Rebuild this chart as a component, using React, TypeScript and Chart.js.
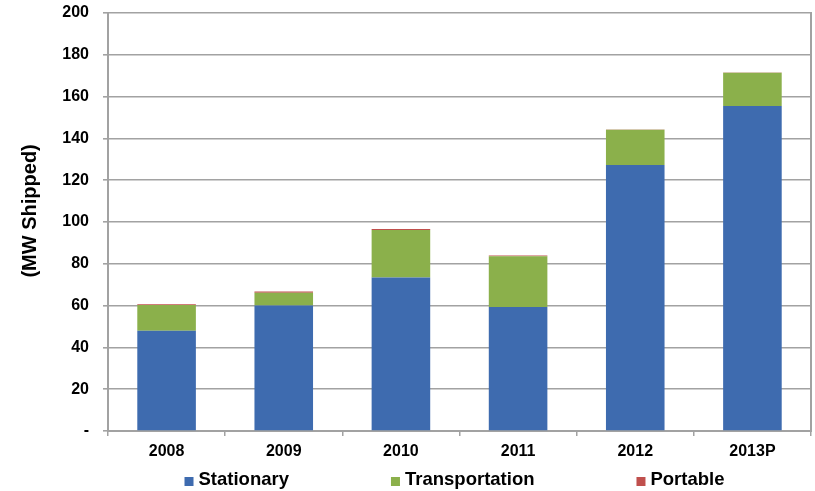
import React, { useEffect, useRef } from 'react';
import { Chart, registerables } from 'chart.js';

Chart.register(...registerables);

const categories = ['2008', '2009', '2010', '2011', '2012', '2013P'];
const stationary = [48, 60, 73.5, 59.3, 127.3, 155.5];
const transportation = [12.3, 6.2, 22.7, 24.3, 16.8, 15.9];
const portable = [0.4, 0.5, 0.5, 0.4, 0.2, 0.1];
const seriesNames = ['Stationary', 'Transportation', 'Portable'];
const seriesColors = ['#3E6BAF', '#8BB04B', '#C0504D'];
const yTitle = '    (MW Shipped)';
const yMin = 0;
const yMax = 200;
const yStep = 20;

const FONT = '"Liberation Sans", Arial, Helvetica, sans-serif';
const GRID = '#a2a2a2';

const bottomLegend = {
  id: 'bottomLegend',
  afterDraw(chart: any) {
    const ctx = chart.ctx;
    ctx.save();
    ctx.font = `bold 18.5px ${FONT}`;
    const box = 9;
    const gapText = 5;
    const gapItem = 102;
    const items = chart.data.datasets.map((ds: any) => ({
      text: ds.label,
      color: ds.backgroundColor,
      w: ctx.measureText(ds.label).width,
    }));
    const total =
      items.reduce((s: number, it: any) => s + box + gapText + it.w, 0) +
      gapItem * (items.length - 1);
    const ca = chart.chartArea;
    let x = (ca.left + ca.right) / 2 - total / 2 - 5;
    const yBox = ca.bottom + 46;
    const yText = ca.bottom + 49;
    ctx.textBaseline = 'middle';
    ctx.textAlign = 'left';
    items.forEach((it: any) => {
      ctx.fillStyle = it.color;
      ctx.fillRect(x, yBox, box, box);
      ctx.fillStyle = '#000';
      ctx.fillText(it.text, x + box + gapText, yText);
      x += box + gapText + it.w + gapItem;
    });
    ctx.restore();
  },
};

export default function App() {
  const ref = useRef<HTMLCanvasElement | null>(null);

  useEffect(() => {
    if (!ref.current) return;
    Chart.defaults.font.family = FONT;
    const seriesData = [stationary, transportation, portable];
    const chart = new Chart(ref.current, {
      type: 'bar',
      data: {
        labels: categories,
        datasets: seriesData.map((d, i) => ({
          label: seriesNames[i],
          data: d,
          backgroundColor: seriesColors[i],
          borderWidth: 0,
          barPercentage: 0.5,
          categoryPercentage: 1,
        })),
      },
      options: {
        responsive: false,
        animation: false,
        devicePixelRatio: 1,
        layout: { padding: { top: 13, right: 4, bottom: 35, left: 0 } },
        plugins: {
          legend: { display: false },
          tooltip: { enabled: false },
          title: { display: false },
        },
        scales: {
          x: {
            stacked: true,
            grid: {
              offset: true,
              drawOnChartArea: false,
              drawTicks: true,
              tickLength: 5,
              color: GRID,
              lineWidth: 1.5,
            },
            border: { display: true, color: GRID, width: 2 },
            ticks: {
              color: '#000',
              font: { size: 16, weight: 'bold', family: FONT },
              padding: 6,
              maxRotation: 0,
            },
            afterFit(scale: any) {
              scale.height = 25;
            },
          },
          y: {
            stacked: true,
            min: yMin,
            max: yMax,
            grid: {
              color: GRID,
              lineWidth: 1.6,
              drawTicks: true,
              tickLength: 5,
            },
            border: { display: true, color: GRID, width: 2 },
            ticks: {
              stepSize: yStep,
              color: '#000',
              padding: 14,
              font: { size: 16, weight: 'bold', family: FONT },
              callback: (v: any) => (v === 0 ? '-' : String(v)),
            },
            title: {
              display: true,
              text: yTitle,
              color: '#000',
              font: { size: 20, weight: 'bold', family: FONT },
              padding: { top: 18, bottom: 0 },
            },
            afterFit(scale: any) {
              scale.width = 108;
              scale.paddingTop = 0;
              scale.paddingBottom = 0;
            },
          },
          yR: {
            type: 'linear',
            position: 'right',
            min: yMin,
            max: yMax,
            display: true,
            grid: { display: false, drawTicks: false },
            ticks: { display: false },
            border: { display: true, color: GRID, width: 2 },
            afterFit(scale: any) {
              scale.width = 0;
              scale.paddingTop = 0;
              scale.paddingBottom = 0;
            },
          },
        },
      } as any,
      plugins: [bottomLegend],
    });
    return () => chart.destroy();
  }, []);

  return (
    <div style={{ position: 'fixed', left: 0, top: 0, width: 815, height: 491, background: '#fff' }}>
      <canvas ref={ref} width={815} height={491} style={{ width: 815, height: 491, display: 'block' }} />
    </div>
  );
}
